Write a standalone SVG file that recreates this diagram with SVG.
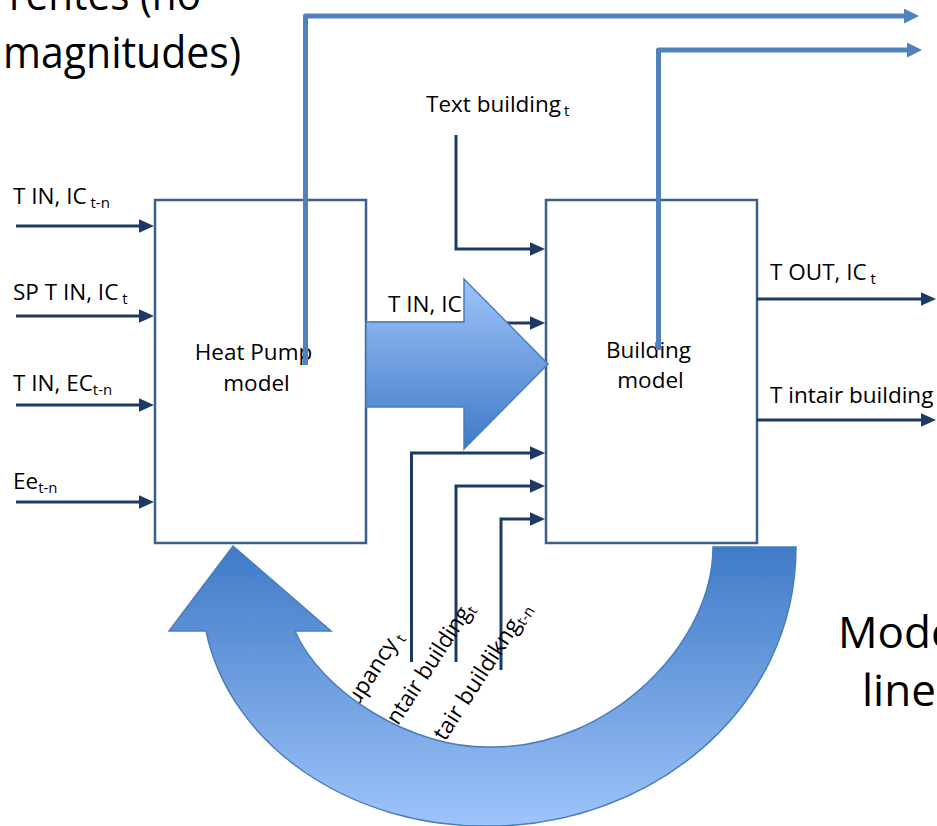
<svg xmlns="http://www.w3.org/2000/svg" width="937" height="826" viewBox="0 0 937 826">
<defs>
<style>
.t{font-family:"Open Sans","Noto Sans","Liberation Sans",sans-serif;font-size:22.5px;fill:#000}
.big{font-family:"Open Sans","Noto Sans","Liberation Sans",sans-serif;font-size:44px;fill:#000}
.sub{font-size:15px}
.box{fill:#fff;stroke:#3A5F8C;stroke-width:2.5}
.dk{fill:none;stroke:#1C3A64;stroke-width:3;marker-end:url(#ah)}
.lb{fill:none;stroke:#4F81BD;stroke-width:5;stroke-linejoin:round;marker-end:url(#ahb)}
.fl{stroke:#4A7DBA;stroke-width:1.5}
</style>
<marker id="ah" viewBox="0 0 10 9" refX="7" refY="4.5" markerWidth="5" markerHeight="4.5" orient="auto" markerUnits="strokeWidth">
<path d="M0,0 L10,4.5 L0,9 z" fill="#1C3A64"/>
</marker>
<marker id="ahb" viewBox="0 0 10 10" refX="6" refY="5" markerWidth="3" markerHeight="3" orient="auto" markerUnits="strokeWidth">
<path d="M0,0 L10,5 L0,10 z" fill="#4F81BD"/>
</marker>
<linearGradient id="gH" x1="0" y1="0" x2="0" y2="1">
<stop offset="0" stop-color="#9EC4FA"/>
<stop offset="1" stop-color="#3F7AC6"/>
</linearGradient>
<linearGradient id="gC" x1="0" y1="0" x2="0" y2="1">
<stop offset="0" stop-color="#3F7AC6"/>
<stop offset="1" stop-color="#9EC4FA"/>
</linearGradient>
</defs>
<rect width="937" height="826" fill="#fff"/>

<g id="title-left">
<text class="big" x="9" y="10" textLength="192" lengthAdjust="spacingAndGlyphs">rentes (no</text>
<text class="big" x="3" y="68" textLength="238" lengthAdjust="spacingAndGlyphs">magnitudes)</text>
</g>
<g id="title-right">
<text class="big" x="838" y="648">Mode</text>
<text class="big" x="862" y="706">line</text>
</g>

<g id="heat-pump">
<rect class="box" x="155" y="200" width="211" height="343"/>
<text class="t" x="253.5" y="360" text-anchor="middle">Heat Pump</text>
<text class="t" x="256.5" y="391" text-anchor="middle">model</text>
</g>
<g id="building">
<rect class="box" x="546" y="200" width="211" height="343"/>
<text class="t" x="648.5" y="358" text-anchor="middle">Building</text>
<text class="t" x="650.5" y="388" text-anchor="middle">model</text>
</g>

<g id="connectors">
<path class="dk" d="M16,226 H149.5"/>
<path class="dk" d="M16,316 H149.5"/>
<path class="dk" d="M16,405 H149.5"/>
<path class="dk" d="M16,502 H149.5"/>
<path class="dk" d="M456,135 V249 H540.5"/>
<path class="dk" d="M370,323 H540.5"/>
<path class="dk" d="M411.5,662 V453 H540.5"/>
<path class="dk" d="M456,662 V486 H540.5"/>
<path class="dk" d="M501,670 V519 H540.5"/>
<path class="dk" d="M757,299 H931.5"/>
<path class="dk" d="M757,420 H931.5"/>
<path class="lb" d="M305.5,365 V16 H913"/>
<path class="lb" d="M658.5,350 V50 H916"/>

<text class="t" x="13" y="204">T IN, IC<tspan class="sub" dy="4"> t-n</tspan></text>
<text class="t" x="13" y="300">SP T IN, IC<tspan class="sub" dy="4"> t</tspan></text>
<text class="t" x="13" y="391">T IN, EC<tspan class="sub" dy="4">t-n</tspan></text>
<text class="t" x="13" y="489">Ee<tspan class="sub" dy="4">t-n</tspan></text>
<text class="t" x="426" y="112">Text building<tspan class="sub" dx="3" dy="4">t</tspan></text>
<text class="t" x="388" y="312">T IN, IC</text>
<text class="t" x="770" y="280">T OUT, IC<tspan class="sub" dy="4"> t</tspan></text>
<text class="t" x="770" y="403">T intair building</text>
<text class="t" transform="translate(357,708) rotate(-57)">upancy<tspan class="sub" dy="4"> t</tspan></text>
<text class="t" transform="translate(398,726) rotate(-57)"><tspan textLength="135" lengthAdjust="spacingAndGlyphs">ntair building</tspan><tspan class="sub" dy="4">t</tspan></text>
<text class="t" transform="translate(445,742) rotate(-57)"><tspan textLength="140" lengthAdjust="spacingAndGlyphs">tair buildikng</tspan><tspan class="sub" dy="4">t-n</tspan></text>
</g>

<g id="flow-arrows">
<path class="fl" fill="url(#gH)" d="M366,322 H464 V279 L548,364 L464,449 V407 H366 Z"/>
<path class="fl" fill="url(#gC)" d="M796,547 L713,547 C713,645 608,747 494,747 C410,750 320,690 295,631 L331,631 L233,546 L169,631 L206,631 C230,745 350,828 490,826 C650,826 796,710 796,547 Z"/>
</g>
</svg>
